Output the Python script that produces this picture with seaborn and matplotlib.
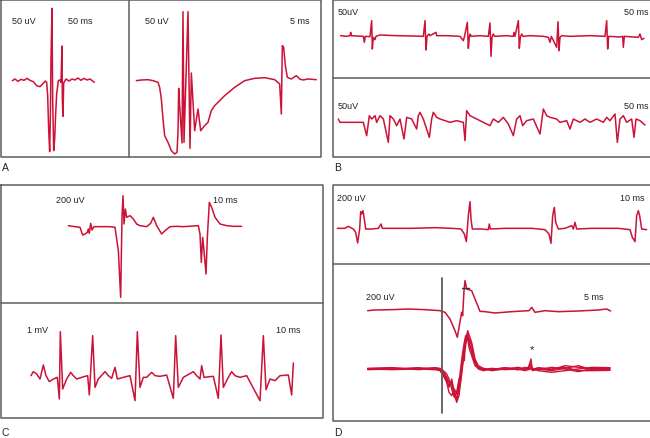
import numpy as np
import pandas as pd
import seaborn as sns
import matplotlib.pyplot as plt

# Traces at 3x zoom: (x, y) in zoomed reading units.
# Each trace has its own reading origin (see ORIGIN below); values / 3 + origin = pixel.

a_left_x = [37, 45, 54, 63, 72, 81, 90, 100, 110, 120, 130, 136, 140, 143, 146, 149, 151, 153, 156,
            158, 161, 164, 167, 170, 175, 180, 183, 186, 187, 189, 191, 198, 207, 216, 225, 234,
            243, 252, 261, 270, 283]
a_left_y = [245, 240, 247, 241, 244, 238, 244, 248, 260, 263, 253, 246, 250, 290, 390, 458, 360, 180,
            28, 300, 455, 420, 345, 285, 245, 243, 250, 141, 300, 352, 252, 240, 246, 240, 243, 237,
            244, 238, 243, 240, 250]

a_right_x = [25, 40, 60, 75, 90, 95, 100, 105, 110, 120, 130, 140, 147, 150, 152, 155, 162, 165, 168,
             180, 186, 190, 200, 210, 218, 230, 240, 250, 260, 290, 320, 350, 380, 410, 440, 455,
             460, 463, 467, 472, 478, 490, 505, 515, 525, 540, 565]
a_right_y = [245, 243, 242, 245, 250, 265, 300, 360, 410, 430, 455, 465, 460, 400, 268, 320, 432, 38,
             430, 38, 448, 222, 395, 330, 395, 380, 370, 335, 320, 290, 265, 245, 238, 236, 242, 255,
             345, 140, 145, 200, 235, 240, 230, 240, 243, 240, 242]

b_top_x = [32, 50, 60, 62, 64, 80, 100, 103, 106, 120, 125, 127, 130, 135, 138, 150, 200, 250, 280,
           285, 288, 291, 297, 300, 318, 320, 350, 390, 400, 404, 412, 415, 418, 420, 424, 450, 475,
           480, 483, 486, 490, 494, 530, 550, 552, 555, 565, 568, 571, 575, 579, 600, 640, 655, 660,
           664, 680, 684, 687, 690, 695, 720, 780, 825, 830, 833, 836, 870, 878, 880, 883, 925, 930,
           935, 942]
b_top_y = [50, 52, 50, 40, 50, 51, 52, 70, 52, 53, 5, 90, 55, 62, 52, 48, 50, 51, 52,
           5, 93, 52, 45, 50, 40, 50, 50, 52, 65, 50, 10, 88, 55, 45, 52, 50, 52,
           12, 112, 55, 45, 52, 50, 52, 40, 52, 5, 88, 55, 45, 52, 50, 52, 55, 70,
           52, 85, 8, 95, 55, 50, 52, 50, 52, 5, 90, 52, 54, 52, 85, 52, 55, 45,
           62, 58]

b_bot_x = [25, 30, 100, 110, 118, 125, 135, 140, 150, 160, 175, 180, 190, 200, 210, 222, 230, 245,
           260, 265, 270, 280, 298, 305, 310, 320, 330, 345, 360, 380, 400, 405, 410, 420, 440, 460,
           480, 490, 505, 520, 535, 550, 560, 570, 578, 590, 610, 630, 640, 650, 660, 680, 690, 710,
           720, 730, 750, 765, 780, 800, 820, 830, 840, 855, 862, 870, 880, 890, 905, 912, 918, 930,
           945]
b_bot_y = [300, 310, 310, 350, 290, 300, 290, 310, 290, 300, 370, 290, 300, 320, 300, 360, 295, 300,
           330, 290, 280, 300, 355, 300, 280, 295, 300, 305, 310, 305, 310, 365, 275, 290, 300, 310,
           320, 300, 310, 295, 315, 350, 300, 290, 320, 305, 300, 345, 270, 290, 295, 300, 310, 305,
           330, 300, 310, 300, 310, 300, 310, 295, 305, 285, 370, 300, 290, 310, 300, 355, 300, 305,
           318]

c_top_x = [205, 225, 240, 248, 255, 262, 265, 268, 272, 276, 282, 300, 330, 345, 350, 355, 362, 366,
           369, 372, 376, 380, 390, 400, 410, 420, 440, 452, 460, 470, 485, 495, 510, 530, 550, 580,
           595, 600, 604, 608, 612, 618, 622, 628, 635, 645, 660, 680, 700, 725]
c_top_y = [125, 128, 130, 153, 150, 145, 135, 148, 118, 138, 128, 128, 128, 130, 165, 200, 340, 100,
           35, 120, 75, 100, 95, 105, 120, 125, 128, 118, 100, 125, 150, 140, 128, 127, 128, 126,
           125, 150, 235, 160, 200, 270, 160, 55, 70, 100, 120, 125, 127, 127]

c_bot_x = [93, 100, 110, 120, 130, 138, 148, 160, 172, 178, 181, 188, 200, 212, 220, 230, 245, 263,
           268, 278, 285, 295, 315, 325, 335, 345, 352, 370, 390, 405, 412, 420, 430, 440, 455, 465,
           480, 500, 520, 527, 535, 550, 580, 590, 600, 605, 612, 640, 655, 663, 670, 685, 695, 705,
           720, 740, 780, 790, 798, 810, 825, 840, 865, 875, 880]
c_bot_y = [590, 578, 585, 600, 558, 590, 608, 600, 595, 660, 458, 630, 600, 580, 590, 600, 595, 590,
           648, 470, 625, 600, 578, 590, 598, 565, 600, 595, 590, 665, 458, 625, 595, 595, 580, 590,
           592, 588, 658, 470, 625, 595, 578, 590, 600, 560, 595, 592, 658, 468, 625, 595, 578, 590,
           595, 590, 665, 470, 632, 600, 605, 590, 588, 648, 552]

d_top_x = [37, 60, 70, 85, 92, 98, 104, 107, 110, 114, 118, 122, 140, 160, 168, 172, 200, 260, 330,
           380, 408, 418, 424, 430, 435, 438, 442, 470, 490, 493, 496, 540, 620, 660, 672, 678, 683,
           688, 692, 700, 720, 740, 745, 750, 755, 800, 880, 915, 922, 930, 935, 940, 944, 950, 965]
d_top_y = [148, 148, 142, 150, 160, 192, 150, 98, 105, 95, 120, 150, 150, 148, 135, 148, 148, 148, 146,
           148, 150, 165, 188, 110, 68, 120, 150, 150, 152, 135, 150, 148, 148, 152, 165, 193, 110,
           85, 130, 150, 148, 140, 150, 130, 150, 148, 148, 152, 175, 188, 110, 95, 110, 150, 152]

# D lower panel: single response sweep and five superimposed sweeps
d_single_x = [128, 150, 200, 250, 300, 345, 360, 375, 390, 397, 403, 410, 413, 417, 420, 425, 440,
              450, 465, 480, 510, 560, 612, 620, 630, 660, 700, 760, 820, 845, 857]
d_single_y = [395, 393, 392, 390, 392, 395, 400, 420, 455, 475, 440, 400, 410, 335, 305, 330, 335,
              360, 397, 398, 402, 398, 395, 385, 400, 395, 398, 396, 393, 390, 396]

sweep_x = [128, 200, 280, 330, 345, 355, 365, 372, 380, 388, 395, 402, 408, 413, 418, 422, 428, 433,
           440, 450, 460, 475, 500, 540, 580, 600, 605, 612, 618, 622, 640, 680, 720, 760, 800, 855]
sweeps = {
    1: [570, 568, 570, 568, 572, 580, 600, 625, 600, 640, 660, 620, 580, 530, 545, 475, 460, 500,
        510, 545, 565, 572, 570, 568, 572, 565, 575, 560, 540, 575, 570, 575, 568, 560, 572, 568],
    2: [572, 570, 566, 570, 575, 590, 610, 640, 650, 630, 645, 610, 560, 520, 490, 470, 480, 510,
        530, 560, 568, 570, 572, 566, 570, 568, 572, 562, 555, 570, 568, 572, 560, 565, 570, 572],
    3: [568, 566, 572, 568, 570, 578, 595, 610, 615, 650, 665, 630, 600, 560, 520, 500, 455, 470,
        490, 540, 560, 568, 575, 570, 565, 570, 570, 572, 568, 570, 575, 580, 575, 570, 565, 566],
    4: [570, 572, 570, 566, 568, 575, 585, 600, 630, 655, 640, 600, 590, 545, 500, 480, 470, 490,
        520, 555, 565, 572, 568, 572, 570, 575, 565, 570, 560, 572, 566, 570, 565, 575, 575, 574],
    5: [569, 568, 570, 572, 574, 585, 605, 620, 610, 640, 670, 650, 600, 550, 510, 490, 475, 480,
        500, 545, 570, 575, 570, 568, 572, 570, 568, 566, 570, 568, 572, 565, 570, 578, 568, 570],
}

# scale/amplitude labels: (text, reading x, reading y, alignment)
labels_a = [("50 uV", 12, 21, "left"), ("50 ms", 68, 21, "left"),
            ("50 uV", 145, 21, "left"), ("5 ms", 309, 21, "right")]
labels_b = [("50uV", 338, 12.5, "left"), ("50 ms", 648, 12.5, "right"),
            ("50uV", 338, 107, "left"), ("50 ms", 648, 107, "right")]
labels_c = [("200 uV", 56, 201, "left"), ("10 ms", 213, 201, "left"),
            ("1 mV", 27, 331, "left"), ("10 ms", 300, 331, "right")]
labels_d = [("200 uV", 337, 199, "left"), ("10 ms", 645, 199, "right"),
            ("200 uV", 366, 298, "left"), ("5 ms", 584, 298, "left")]
panel_letters = ["A", "B", "C", "D"]

# ---- layout (pixels) ----
ORIGIN = {"a_left": (0, 0), "a_right": (128, 0), "b": (330, 20), "c_top": (0, 185),
          "c_bot": (0, 180), "d": (325, 180)}
RED = "#cc1236"
GREY = "#5c5c5c"


def to_px(xs, ys, origin):
    ox, oy = origin
    return np.asarray(xs) / 3 + ox, np.asarray(ys) / 3 + oy


sns.set_theme(style="white")
plt.rcParams["font.family"] = ["Liberation Sans", "DejaVu Sans"]

fig = plt.figure(figsize=(6.5, 4.39), dpi=100)
ax = fig.add_axes([0, 0, 1, 1])
ax.set_xlim(0, 650)
ax.set_ylim(439, 0)
ax.axis("off")

traces = [
    (a_left_x, a_left_y, "a_left"), (a_right_x, a_right_y, "a_right"),
    (b_top_x, b_top_y, "b"), (b_bot_x, b_bot_y, "b"),
    (c_top_x, c_top_y, "c_top"), (c_bot_x, c_bot_y, "c_bot"),
    (d_top_x, d_top_y, "d"), (d_single_x, d_single_y, "d"),
]
for xs, ys, key in traces:
    px, py = to_px(xs, ys, ORIGIN[key])
    sns.lineplot(x=px, y=py, ax=ax, sort=False, estimator=None, color=RED, lw=1.1)

rows = []
for k, vals in sweeps.items():
    px, py = to_px(sweep_x, vals, ORIGIN["d"])
    rows.append(pd.DataFrame({"x": px, "y": py, "sweep": k}))
df_sweeps = pd.concat(rows, ignore_index=True)
sns.lineplot(data=df_sweeps, x="x", y="y", units="sweep", estimator=None, sort=False,
             ax=ax, color=RED, lw=1.0)

# stimulus marker and cursor in D lower
ax.plot([441.7, 441.7], [279, 414], color=GREY, lw=1.3)
ax.plot([461.5, 468.5], [289, 289], color="#333333", lw=1.0)
ax.text(531.5, 350, "*", fontsize=8, ha="center", va="center", color="#222222")

# panel boxes
box_kw = dict(color=GREY, lw=1.1)
ax.plot([0.6, 321, 321, 0.6, 0.6], [0.6, 0.6, 157.5, 157.5, 0.6], **box_kw)
ax.plot([128.5, 128.5], [0.6, 157.5], **box_kw)
ax.plot([650, 332.5, 332.5, 650], [0.6, 0.6, 157.5, 157.5], **box_kw)
ax.plot([332.5, 650], [79.3, 79.3], **box_kw)
ax.plot([0.6, 323, 323, 0.6, 0.6], [185.7, 185.7, 419, 419, 185.7], **box_kw)
ax.plot([0.6, 323], [304, 304], **box_kw)
ax.plot([650, 332.5, 332.5, 650], [185.7, 185.7, 421.7, 421.7], **box_kw)
ax.plot([332.5, 650], [265, 265], **box_kw)

for text, x, y, ha in labels_a + labels_b + labels_c + labels_d:
    ax.text(x, y, text, fontsize=6.5, ha=ha, va="center", color="#222222")

for letter, (x, y) in zip(panel_letters, [(2, 168), (334, 168), (2, 433), (334, 433)]):
    ax.text(x, y, letter, fontsize=7.5, ha="left", va="center", color="#222222")

fig.savefig("out.png", dpi=100)
